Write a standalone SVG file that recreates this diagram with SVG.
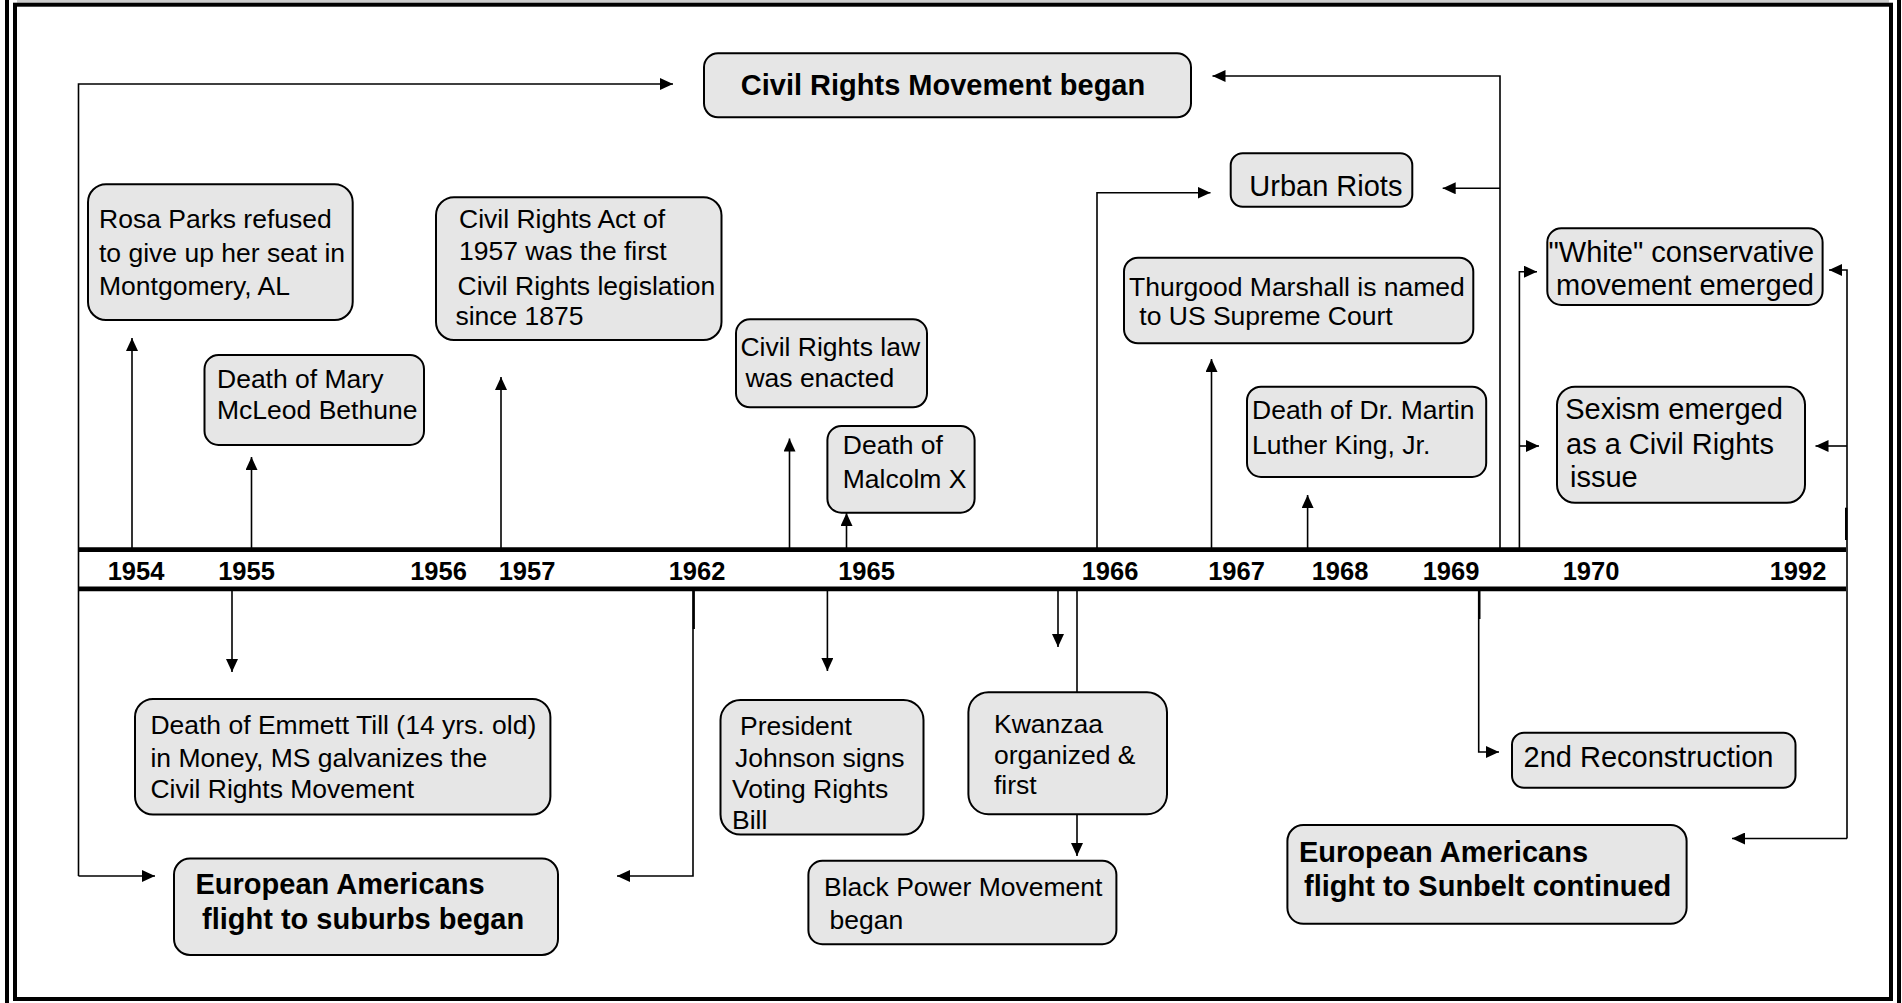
<svg xmlns="http://www.w3.org/2000/svg" width="1902" height="1003" viewBox="0 0 1902 1003">
<style>
.box{fill:#e6e6e6;stroke:#000;stroke-width:2}
.t{font-family:"Liberation Sans",Arial,sans-serif;font-size:26.5px;fill:#000}
.tl{font-size:29px}
.tb{font-size:29px;font-weight:bold}
.yr{font-family:"Liberation Sans",Arial,sans-serif;font-size:25.5px;font-weight:bold;text-anchor:middle;fill:#000}
.c{fill:none;stroke:#000;stroke-width:1.6}
.ca{fill:none;stroke:#000;stroke-width:1.6;marker-end:url(#ah)}
.frame{fill:none;stroke:#000;stroke-width:4}
.tline{stroke:#000;stroke-width:4.7}
</style>
<defs>
<marker id="ah" markerUnits="userSpaceOnUse" markerWidth="14" markerHeight="12" refX="13" refY="6" orient="auto">
<path d="M0,0 L13,6 L0,12 z" fill="#000"/>
</marker>
</defs>
<rect x="0" y="0" width="1902" height="1003" fill="#fff"/>
<g id="frame">
<rect x="17" y="0" width="1872" height="2.7" fill="#cccccc"/>
<rect class="frame" x="15" y="4.7" width="1876" height="994.3"/>
<line class="frame" x1="7" y1="0" x2="7" y2="1003"/>
<line class="frame" x1="1899" y1="0" x2="1899" y2="1003"/>
</g>
<g id="timeline">
<line class="tline" x1="78" y1="549.6" x2="1846" y2="549.6"/>
<line class="tline" x1="78" y1="588.8" x2="1846" y2="588.8"/>
<text class="yr" x="136" y="580">1954</text>
<text class="yr" x="246.5" y="580">1955</text>
<text class="yr" x="438.5" y="580">1956</text>
<text class="yr" x="527" y="580">1957</text>
<text class="yr" x="697" y="580">1962</text>
<text class="yr" x="866.5" y="580">1965</text>
<text class="yr" x="1110" y="580">1966</text>
<text class="yr" x="1236.5" y="580">1967</text>
<text class="yr" x="1340" y="580">1968</text>
<text class="yr" x="1451" y="580">1969</text>
<text class="yr" x="1591" y="580">1970</text>
<text class="yr" x="1798" y="580">1992</text>
</g>
<g id="connectors">
<path class="ca" d="M78.5,876 L78.5,84 L673,84"/>
<path class="ca" d="M78.5,876 L155,876"/>
<path class="ca" d="M132,549 L132,338"/>
<path class="ca" d="M251.5,549 L251.5,457"/>
<path class="ca" d="M501,549 L501,377"/>
<path class="ca" d="M232,589 L232,672"/>
<path class="ca" d="M693,589 L693,876 L617,876"/>
<line x1="693.8" y1="589" x2="693.8" y2="629" stroke="#000" stroke-width="2.2"/>
<path class="ca" d="M789.5,549 L789.5,438.5"/>
<path class="ca" d="M846.5,549 L846.5,513"/>
<path class="ca" d="M827.4,589 L827.4,671"/>
<path class="ca" d="M1058,589 L1058,647"/>
<path class="c" d="M1077,589 L1077,692.3"/>
<path class="ca" d="M1077,814 L1077,856"/>
<path class="ca" d="M1097,549 L1097,192.7 L1210.5,192.7"/>
<path class="ca" d="M1211.5,549 L1211.5,359"/>
<path class="ca" d="M1307.6,549 L1307.6,495"/>
<path class="ca" d="M1500,549 L1500,76 L1212.5,76"/>
<path class="ca" d="M1500,188.3 L1442.7,188.3"/>
<path class="ca" d="M1519.4,549 L1519.4,271.7 L1537,271.7"/>
<path class="ca" d="M1519.4,446 L1539,446"/>
<path class="ca" d="M1847,838.5 L1847,270 L1829,270"/>
<path class="ca" d="M1847,446 L1815.5,446"/>
<path class="ca" d="M1847,838.5 L1732,838.5"/>
<line x1="1846.2" y1="507.7" x2="1846.2" y2="540" stroke="#000" stroke-width="2.4"/>
<path class="ca" d="M1478.7,589 L1478.7,752 L1499,752"/>
<line x1="1479.4" y1="589" x2="1479.4" y2="619" stroke="#000" stroke-width="2.2"/>
</g>
<g id="n-civil-rights-movement">
<rect class="box" x="704" y="53.3" width="487" height="64" rx="14"/>
<text class="t tb" x="943" y="95" text-anchor="middle">Civil Rights Movement began</text>
</g>
<g id="n-rosa-parks">
<rect class="box" x="88" y="184.3" width="264.7" height="135.7" rx="18"/>
<text class="t"><tspan x="99" y="228.3">Rosa Parks refused</tspan><tspan x="99" y="261.5">to give up her seat in</tspan><tspan x="99" y="295">Montgomery, AL</tspan></text>
</g>
<g id="n-bethune">
<rect class="box" x="204.5" y="355" width="219.5" height="90" rx="14"/>
<text class="t"><tspan x="217" y="388">Death of Mary</tspan><tspan x="217" y="419">McLeod Bethune</tspan></text>
</g>
<g id="n-civil-rights-act">
<rect class="box" x="436" y="197.3" width="285.5" height="142.7" rx="18"/>
<text class="t"><tspan x="459" y="228.3">Civil Rights Act of</tspan><tspan x="459" y="260">1957 was the first</tspan><tspan x="457.6" y="295">Civil Rights legislation</tspan><tspan x="455.4" y="325">since 1875</tspan></text>
</g>
<g id="n-civil-rights-law">
<rect class="box" x="736" y="319.3" width="191" height="88" rx="14"/>
<text class="t"><tspan x="740.4" y="356">Civil Rights law</tspan><tspan x="745.4" y="386.7">was enacted</tspan></text>
</g>
<g id="n-malcolm-x">
<rect class="box" x="827.4" y="426" width="147.2" height="86.7" rx="14"/>
<text class="t"><tspan x="842.8" y="453.8">Death of</tspan><tspan x="842.8" y="487.7">Malcolm X</tspan></text>
</g>
<g id="n-urban-riots">
<rect class="box" x="1230.7" y="153.3" width="181.6" height="53.4" rx="12"/>
<text class="t tl" x="1249.3" y="195.7">Urban Riots</text>
</g>
<g id="n-thurgood">
<rect class="box" x="1124" y="257.7" width="349.3" height="85.6" rx="14"/>
<text class="t"><tspan x="1129" y="296">Thurgood Marshall is named</tspan><tspan x="1139.3" y="325">to US Supreme Court</tspan></text>
</g>
<g id="n-mlk">
<rect class="box" x="1247" y="386.7" width="239.2" height="90.3" rx="14"/>
<text class="t"><tspan x="1252" y="419">Death of Dr. Martin</tspan><tspan x="1252" y="453.8">Luther King, Jr.</tspan></text>
</g>
<g id="n-white-conservative">
<rect class="box" x="1547.3" y="228.3" width="275.3" height="76.7" rx="14"/>
<text class="t tl"><tspan x="1548.5" y="261.7">"White" conservative</tspan><tspan x="1556" y="295">movement emerged</tspan></text>
</g>
<g id="n-sexism">
<rect class="box" x="1557" y="386.7" width="248" height="116" rx="18"/>
<text class="t tl"><tspan x="1565.2" y="419">Sexism emerged</tspan><tspan x="1566" y="453.8">as a Civil Rights</tspan><tspan x="1570" y="486.5">issue</tspan></text>
</g>
<g id="n-emmett-till">
<rect class="box" x="135" y="699" width="415.4" height="115.6" rx="18"/>
<text class="t"><tspan x="150.4" y="733.8">Death of Emmett Till (14 yrs. old)</tspan><tspan x="150.4" y="767">in Money, MS galvanizes the</tspan><tspan x="150.4" y="798">Civil Rights Movement</tspan></text>
</g>
<g id="n-suburbs">
<rect class="box" x="174" y="858.5" width="384" height="96.5" rx="16"/>
<text class="t tb"><tspan x="195.5" y="894">European Americans</tspan><tspan x="202" y="929">flight to suburbs began</tspan></text>
</g>
<g id="n-johnson">
<rect class="box" x="720.5" y="700" width="203" height="134.6" rx="20"/>
<text class="t"><tspan x="740" y="734.6">President</tspan><tspan x="735" y="767.3">Johnson signs</tspan><tspan x="732" y="798">Voting Rights</tspan><tspan x="732" y="828.8">Bill</tspan></text>
</g>
<g id="n-kwanzaa">
<rect class="box" x="968.4" y="692.3" width="198.6" height="121.9" rx="20"/>
<text class="t"><tspan x="994" y="732.7">Kwanzaa</tspan><tspan x="994" y="763.5">organized &amp;</tspan><tspan x="994" y="794.2">first</tspan></text>
</g>
<g id="n-black-power">
<rect class="box" x="808.4" y="860.8" width="308" height="83.4" rx="14"/>
<text class="t"><tspan x="824" y="896">Black Power Movement</tspan><tspan x="829.5" y="928.8">began</tspan></text>
</g>
<g id="n-reconstruction">
<rect class="box" x="1512" y="732.7" width="283.5" height="55" rx="12"/>
<text class="t tl" x="1523.6" y="767.3">2nd Reconstruction</text>
</g>
<g id="n-sunbelt">
<rect class="box" x="1287.4" y="825" width="399.2" height="98.8" rx="16"/>
<text class="t tb"><tspan x="1299" y="861.5">European Americans</tspan><tspan x="1304" y="896">flight to Sunbelt continued</tspan></text>
</g>
</svg>
